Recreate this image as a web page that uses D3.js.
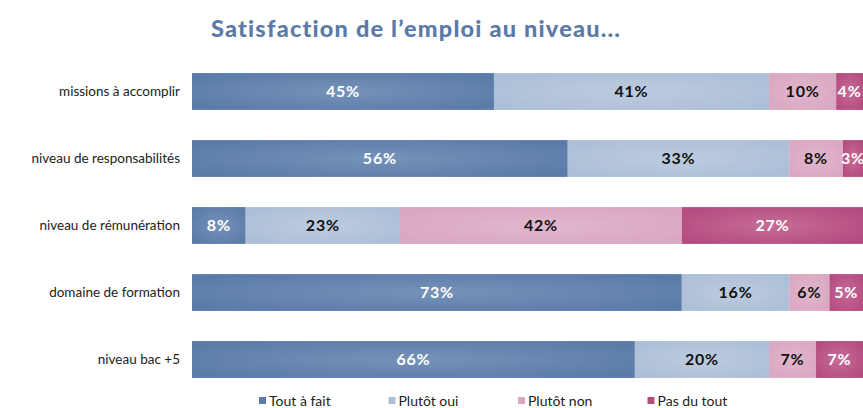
<!DOCTYPE html>
<html>
<head>
<meta charset="utf-8">
<script src="https://cdn.jsdelivr.net/npm/d3@7/dist/d3.min.js"></script>
<style>
  html, body { margin: 0; padding: 0; background: #fff; }
  svg { display: block; }
</style>
</head>
<body>
<svg id="chart" width="863" height="408"></svg>
<script>
// Job satisfaction by aspect, share of answers (%)
const categories = [
  "missions à accomplir",
  "niveau de responsabilités",
  "niveau de rémunération",
  "domaine de formation",
  "niveau bac +5"
];
const seriesNames = ["Tout à fait", "Plutôt oui", "Plutôt non", "Pas du tout"];
const toutAFait  = [45, 56, 8, 73, 66];
const plutotOui  = [41, 33, 23, 16, 20];
const plutotNon  = [10, 8, 42, 6, 7];
const pasDuTout  = [4, 3, 27, 5, 7];

const colors = ["#5b7ba9", "#adbfd7", "#d9a7c1", "#b54c80"];
const centerColors = ["#7692b8", "#bccbdf", "#e1b7cc", "#c66c97"];
const labelColors = ["#ffffff", "#111111", "#111111", "#ffffff"];

const rows = categories.map((c, i) => ({
  cat: c,
  "Tout à fait": toutAFait[i],
  "Plutôt oui": plutotOui[i],
  "Plutôt non": plutotNon[i],
  "Pas du tout": pasDuTout[i]
}));

const svg = d3.select("#chart");
const margin = { left: 192, right: 0, top: 58, bottom: 48 };
const W = 863, H = 408;

const x = d3.scaleLinear().domain([0, 100]).range([margin.left, W - margin.right]);
const y = d3.scaleBand().domain(categories).range([margin.top, margin.top + 67 * 5])
  .paddingInner(0.45).paddingOuter(0.225);

// Radial shading on each segment
const defs = svg.append("defs");
colors.forEach((c, i) => {
  const g = defs.append("radialGradient").attr("id", "grad" + i)
    .attr("cx", "50%").attr("cy", "50%").attr("r", "60%");
  g.append("stop").attr("offset", "0%").attr("stop-color", centerColors[i]);
  g.append("stop").attr("offset", "100%").attr("stop-color", c);
});

const stack = d3.stack().keys(seriesNames);
const layers = stack(rows);

const gLayers = svg.append("g").selectAll("g").data(layers).join("g")
  .attr("fill", (d, i) => `url(#grad${i})`);

gLayers.selectAll("rect").data(d => d.map(p => ({ p, cat: p.data.cat }))).join("rect")
  .attr("x", d => x(d.p[0]))
  .attr("y", d => y(d.cat))
  .attr("width", d => x(d.p[1]) - x(d.p[0]))
  .attr("height", y.bandwidth());

// Value labels
layers.forEach((layer, i) => {
  svg.append("g").selectAll("text").data(layer).join("text")
    .attr("x", d => (x(d[0]) + x(d[1])) / 2)
    .attr("y", d => y(d.data.cat) + y.bandwidth() / 2)
    .attr("dy", "0.36em")
    .attr("text-anchor", "middle")
    .attr("fill", labelColors[i])
    .style("font-family", "Lato, 'Open Sans', sans-serif")
    .style("font-weight", "bold")
    .style("font-size", "16px")
    .style("letter-spacing", "0.8px")
    .text(d => (d[1] - d[0]) + "%");
});

// Category axis
const yAxis = d3.axisLeft(y).tickSize(0).tickPadding(12);
const ga = svg.append("g").attr("transform", `translate(${margin.left},0)`).call(yAxis);
ga.select(".domain").remove();
ga.selectAll("text")
  .style("font-family", "Lato, 'Open Sans', sans-serif")
  .style("font-size", "13.5px")
  .attr("fill", "#222");

// Title
svg.append("text")
  .attr("x", 416).attr("y", 37)
  .attr("text-anchor", "middle")
  .attr("fill", "#5a7aa9")
  .style("font-family", "Lato, 'Open Sans', sans-serif")
  .style("font-weight", "900")
  .style("font-size", "23.5px")
  .style("letter-spacing", "1.2px")
  .text("Satisfaction de l’emploi au niveau...");

// Legend
const legend = svg.append("g").selectAll("g").data(seriesNames).join("g")
  .attr("transform", (d, i) => `translate(${259 + i * 129.5},397)`);
legend.append("rect").attr("width", 7).attr("height", 7).attr("y", 0)
  .attr("fill", (d, i) => colors[i]);
legend.append("text").attr("x", 10).attr("y", 4).attr("dy", "0.36em")
  .style("font-family", "Lato, 'Open Sans', sans-serif")
  .style("font-size", "14px")
  .attr("fill", "#222")
  .text(d => d);
</script>
</body>
</html>
